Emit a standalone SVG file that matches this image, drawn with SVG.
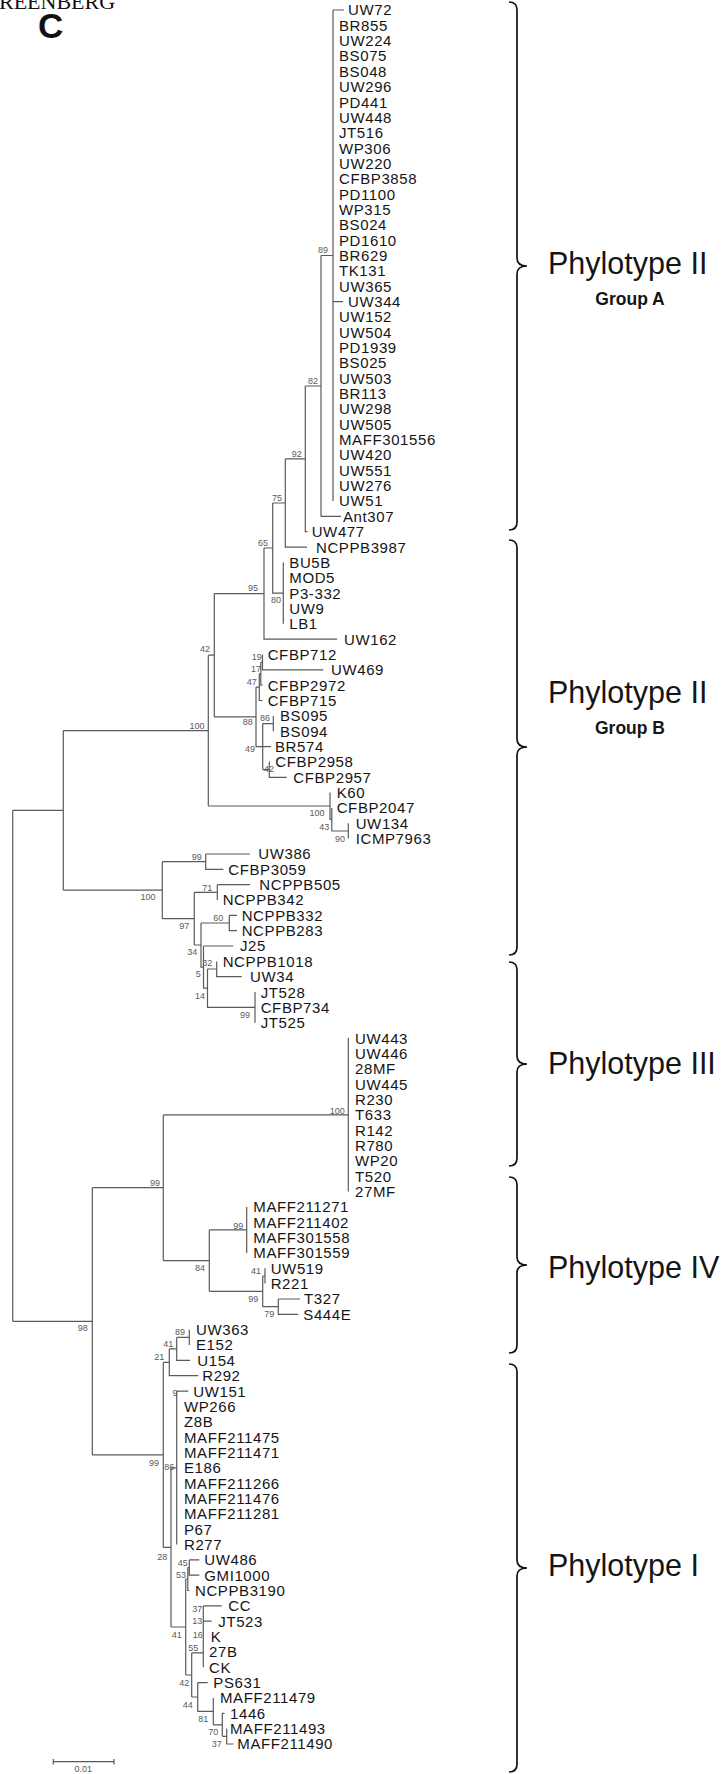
<svg xmlns="http://www.w3.org/2000/svg" width="728" height="1774" viewBox="0 0 728 1774">
<style>
.l{font-family:"Liberation Sans",Arial,sans-serif;font-size:15px;letter-spacing:0.6px;fill:#151515}
.b{font-family:"Liberation Sans",Arial,sans-serif;font-size:9px;fill:#5a5a5a;text-anchor:middle}
.br{fill:none;stroke:#111;stroke-width:1.7}
.ph{font-family:"Liberation Sans",Arial,sans-serif;font-size:30.5px;fill:#151515}
.gp{font-family:"Liberation Sans",Arial,sans-serif;font-size:17.5px;font-weight:bold;fill:#151515;text-anchor:middle}
</style>
<rect width="728" height="1774" fill="#fff"/>
<text x="-1" y="9" font-family="Liberation Serif,serif" font-size="22" fill="#111">REENBERG</text>
<text x="38" y="38" font-family="Liberation Sans,Arial,sans-serif" font-size="35" font-weight="bold" fill="#111">C</text>
<g id="connectors" fill="none" stroke="#5a5a5a" stroke-width="1.2">
<path d="M333,10 V501 M333,10 H344 M333,301.6 H343 M321,255.5 H333 M321,255.5 V516.4 M321,516.4 H341 M305.3,386 H321 M305.3,386 V531.7 H307.5 M285.3,458.9 H305.3 M285.3,458.9 V547.1 H307 M272.7,503 H285.3 M272.7,503 V593.1 H283.3 M283.3,562.4 V623.8 M264,548 H272.7 M264,548 V639.1 H337 M214.3,593.6 H264"/>
<path d="M262.5,654.5 V669.8 H323.3 M260.8,662.2 H262.5 M260.8,662.2 V685.2 H262.5 M259.3,673.7 H260.8 M259.3,673.7 V700.5 H262.5 M273.3,715.9 V731.2 M262.7,723.6 H273.3 M269.3,761.9 V777.3 H286.7 M269.3,761.9 H270 M262.7,769.6 H269.3 M262.7,723.6 V769.6 M262.7,746.6 H271 M256,687.1 H259.3 M256,687.1 V746.6 H262.7 M214.3,716.9 H256 M214.3,593.6 V716.9 M208.3,655.2 H214.3"/>
<path d="M348.3,823.3 V838.6 M331.8,807.9 V831 H348.3 M330,792.6 V819.4 H331.8 M208.3,806 H330 M208.3,655.2 V806 M63.3,730.6 H208.3"/>
<path d="M205.7,854 V869.3 H223.3 M205.7,854 H250 M162.3,861.7 H205.7 M217.3,884.7 V900 M217.3,884.7 H250 M194.3,892.3 H217.3 M229.3,915.4 V930.7 H237 M229.3,915.4 H237 M255,992.1 V1022.8 M216.7,961.4 V976.7 H241.7 M207.5,969 H216.7 M207.5,969 V1007.4 H255 M203.5,946 H233.3 M203.5,946 V988.2 H207.5 M201,923 H229.3 M201,923 V967.1 H203.5 M194.3,945 H201 M194.3,892.3 V945 M162.3,918.7 H194.3 M162.3,861.7 V918.7 M63.3,890.2 H162.3 M63.3,730.6 V890.2 M12.7,810.4 H63.3"/>
<path d="M348.3,1038.1 V1191.6 M163.3,1114.9 H348.3 M246.7,1206.9 V1252.9 M209.3,1229.9 H246.7 M265,1268.3 V1283.6 M262.7,1276 H265 M278.3,1299 V1314.3 H298 M278.3,1299 H300 M262.7,1306.7 H278.3 M262.7,1276 V1306.7 M209.3,1291.3 H262.7 M209.3,1229.9 V1291.3 M163.3,1260.6 H209.3 M163.3,1114.9 V1260.6 M92.3,1187.7 H163.3"/>
<path d="M189.3,1329.7 V1345 M176.7,1337.4 H189.3 M176.7,1337.4 V1360.4 H190 M169.3,1348.9 H176.7 M169.3,1348.9 V1375.7 H198.3 M163.3,1362.3 H169.3 M176.7,1391.1 V1544.5 M176.7,1391.1 H188.3 M171,1467.8 H176.7 M189.3,1559.8 V1575.2 H199.3 M189.3,1559.8 H199.3 M187.8,1567.5 H189.3 M187.8,1567.5 V1590.5 H189.5 M185.7,1579 H187.8 M203.3,1605.9 V1667.3 M203.3,1605.9 H221.7 M203.3,1621.2 H211.7 M191.7,1652.9 H203.3 M226.7,1728.6 V1744 H233.3 M222.3,1736.3 H226.7 M222.3,1713.3 V1736.3 M222.3,1713.3 H224.5 M213.3,1724.8 H222.3 M213.3,1698 V1724.8 M197.7,1711.4 H213.3 M197.7,1682.6 V1711.4 M197.7,1682.6 H207.7 M191.7,1697 H197.7 M191.7,1652.9 V1697 M185.7,1675 H191.7 M185.7,1579 V1675 M171,1627 H185.7 M171,1467.8 V1627 M163.3,1547.4 H171 M163.3,1362.3 V1547.4 M92.3,1454.9 H163.3 M92.3,1187.7 V1454.9 M12.7,1321.3 H92.3 M12.7,810.4 V1321.3"/>
<path d="M53.3,1761.7 H114 M53.3,1759 V1764.5 M114,1759 V1764.5"/>
</g>
<g id="brackets">
<path class="br" d="M509,2 Q517,2 517,10 V258 Q517,266 527,266 Q517,266 517,274 V522 Q517,530 509,530"/>
<path class="br" d="M509,540 Q517,540 517,548 V739 Q517,747 527,747 Q517,747 517,755 V947 Q517,955 509,955"/>
<path class="br" d="M509,962 Q517,962 517,970 V1056 Q517,1064 527,1064 Q517,1064 517,1072 V1158 Q517,1166 509,1166"/>
<path class="br" d="M509,1177 Q517,1177 517,1185 V1257 Q517,1265 527,1265 Q517,1265 517,1273 V1345 Q517,1353 509,1353"/>
<path class="br" d="M509,1364 Q517,1364 517,1372 V1560 Q517,1568 527,1568 Q517,1568 517,1576 V1764 Q517,1772 509,1772"/>
</g>
<g id="clade-labels">
<text class="ph" x="548" y="274">Phylotype II</text>
<text class="gp" x="630" y="305">Group A</text>
<text class="ph" x="548" y="703">Phylotype II</text>
<text class="gp" x="630" y="734">Group B</text>
<text class="ph" x="548" y="1074">Phylotype III</text>
<text class="ph" x="548" y="1278">Phylotype IV</text>
<text class="ph" x="548" y="1576">Phylotype I</text>
</g>
<g id="bootstrap">
<text class="b" x="323" y="253">89</text><text class="b" x="313" y="384">82</text><text class="b" x="296.7" y="457">92</text><text class="b" x="277" y="501">75</text><text class="b" x="263" y="546">65</text><text class="b" x="253" y="591">95</text><text class="b" x="276" y="603">80</text><text class="b" x="205" y="652">42</text><text class="b" x="197" y="729">100</text><text class="b" x="256.7" y="660">19</text><text class="b" x="256" y="672">17</text><text class="b" x="251.7" y="685">47</text><text class="b" x="265" y="721">86</text><text class="b" x="247.7" y="725">88</text><text class="b" x="250" y="752">49</text><text class="b" x="269" y="772">42</text><text class="b" x="317" y="816">100</text><text class="b" x="324.3" y="830">43</text><text class="b" x="340" y="842">90</text><text class="b" x="196.7" y="860">99</text><text class="b" x="207.3" y="891">71</text><text class="b" x="148" y="900">100</text><text class="b" x="218.3" y="921">60</text><text class="b" x="184.3" y="929">97</text><text class="b" x="192.3" y="955">34</text><text class="b" x="207.3" y="966">32</text><text class="b" x="198.3" y="977">5</text><text class="b" x="200" y="999">14</text><text class="b" x="245" y="1018">99</text><text class="b" x="337.3" y="1114">100</text><text class="b" x="155" y="1186">99</text><text class="b" x="238.3" y="1229">99</text><text class="b" x="200" y="1271">84</text><text class="b" x="256" y="1274">41</text><text class="b" x="253.3" y="1302">99</text><text class="b" x="269.3" y="1317">79</text><text class="b" x="82.7" y="1331">98</text><text class="b" x="180" y="1335">89</text><text class="b" x="168.3" y="1347">41</text><text class="b" x="159.3" y="1360">21</text><text class="b" x="175" y="1396">9</text><text class="b" x="154" y="1466">99</text><text class="b" x="169.3" y="1470">86</text><text class="b" x="162.3" y="1560">28</text><text class="b" x="182.7" y="1566">45</text><text class="b" x="181" y="1578">53</text><text class="b" x="197.3" y="1612">37</text><text class="b" x="197.3" y="1624">13</text><text class="b" x="197.7" y="1638">16</text><text class="b" x="176.7" y="1638">41</text><text class="b" x="193.3" y="1651">55</text><text class="b" x="184.3" y="1686">42</text><text class="b" x="187.7" y="1708">44</text><text class="b" x="203.3" y="1722">81</text><text class="b" x="213.3" y="1735">70</text><text class="b" x="216.7" y="1747">37</text>
<text class="b" x="83.3" y="1772" font-size="8">0.01</text>
</g>
<g id="phylotype-II-A">
<g id="n-UW72"><text class="l" x="348" y="15.4">UW72</text></g>
<g id="n-BR855"><text class="l" x="339" y="30.7">BR855</text></g>
<g id="n-UW224"><text class="l" x="339" y="46.1">UW224</text></g>
<g id="n-BS075"><text class="l" x="339" y="61.4">BS075</text></g>
<g id="n-BS048"><text class="l" x="339" y="76.8">BS048</text></g>
<g id="n-UW296"><text class="l" x="339" y="92.1">UW296</text></g>
<g id="n-PD441"><text class="l" x="339" y="107.5">PD441</text></g>
<g id="n-UW448"><text class="l" x="339" y="122.8">UW448</text></g>
<g id="n-JT516"><text class="l" x="339" y="138.2">JT516</text></g>
<g id="n-WP306"><text class="l" x="339" y="153.5">WP306</text></g>
<g id="n-UW220"><text class="l" x="339" y="168.9">UW220</text></g>
<g id="n-CFBP3858"><text class="l" x="339" y="184.2">CFBP3858</text></g>
<g id="n-PD1100"><text class="l" x="339" y="199.5">PD1100</text></g>
<g id="n-WP315"><text class="l" x="339" y="214.9">WP315</text></g>
<g id="n-BS024"><text class="l" x="339" y="230.2">BS024</text></g>
<g id="n-PD1610"><text class="l" x="339" y="245.6">PD1610</text></g>
<g id="n-BR629"><text class="l" x="339" y="260.9">BR629</text></g>
<g id="n-TK131"><text class="l" x="339" y="276.3">TK131</text></g>
<g id="n-UW365"><text class="l" x="339" y="291.6">UW365</text></g>
<g id="n-UW344"><text class="l" x="348" y="307.0">UW344</text></g>
<g id="n-UW152"><text class="l" x="339" y="322.3">UW152</text></g>
<g id="n-UW504"><text class="l" x="339" y="337.7">UW504</text></g>
<g id="n-PD1939"><text class="l" x="339" y="353.0">PD1939</text></g>
<g id="n-BS025"><text class="l" x="339" y="368.3">BS025</text></g>
<g id="n-UW503"><text class="l" x="339" y="383.7">UW503</text></g>
<g id="n-BR113"><text class="l" x="339" y="399.0">BR113</text></g>
<g id="n-UW298"><text class="l" x="339" y="414.4">UW298</text></g>
<g id="n-UW505"><text class="l" x="339" y="429.7">UW505</text></g>
<g id="n-MAFF301556"><text class="l" x="339" y="445.1">MAFF301556</text></g>
<g id="n-UW420"><text class="l" x="339" y="460.4">UW420</text></g>
<g id="n-UW551"><text class="l" x="339" y="475.8">UW551</text></g>
<g id="n-UW276"><text class="l" x="339" y="491.1">UW276</text></g>
<g id="n-UW51"><text class="l" x="339" y="506.4">UW51</text></g>
<g id="n-Ant307"><text class="l" x="343" y="521.8">Ant307</text></g>
<g id="n-UW477"><text class="l" x="311.7" y="537.1">UW477</text></g>
<g id="n-NCPPB3987"><text class="l" x="316" y="552.5">NCPPB3987</text></g>
</g>
<g id="phylotype-II-B">
<g id="n-BU5B"><text class="l" x="289.3" y="567.8">BU5B</text></g>
<g id="n-MOD5"><text class="l" x="289.3" y="583.2">MOD5</text></g>
<g id="n-P3-332"><text class="l" x="289.3" y="598.5">P3-332</text></g>
<g id="n-UW9"><text class="l" x="289.3" y="613.9">UW9</text></g>
<g id="n-LB1"><text class="l" x="289.3" y="629.2">LB1</text></g>
<g id="n-UW162"><text class="l" x="344" y="644.5">UW162</text></g>
<g id="n-CFBP712"><text class="l" x="267.7" y="659.9">CFBP712</text></g>
<g id="n-UW469"><text class="l" x="331" y="675.2">UW469</text></g>
<g id="n-CFBP2972"><text class="l" x="267.7" y="690.6">CFBP2972</text></g>
<g id="n-CFBP715"><text class="l" x="267.7" y="705.9">CFBP715</text></g>
<g id="n-BS095"><text class="l" x="280" y="721.3">BS095</text></g>
<g id="n-BS094"><text class="l" x="280" y="736.6">BS094</text></g>
<g id="n-BR574"><text class="l" x="275" y="752.0">BR574</text></g>
<g id="n-CFBP2958"><text class="l" x="275.3" y="767.3">CFBP2958</text></g>
<g id="n-CFBP2957"><text class="l" x="293.3" y="782.7">CFBP2957</text></g>
<g id="n-K60"><text class="l" x="336.7" y="798.0">K60</text></g>
<g id="n-CFBP2047"><text class="l" x="336.7" y="813.3">CFBP2047</text></g>
<g id="n-UW134"><text class="l" x="355.7" y="828.7">UW134</text></g>
<g id="n-ICMP7963"><text class="l" x="355.7" y="844.0">ICMP7963</text></g>
</g>
<g id="phylotype-III">
<g id="n-UW386"><text class="l" x="258.3" y="859.4">UW386</text></g>
<g id="n-CFBP3059"><text class="l" x="228.3" y="874.7">CFBP3059</text></g>
<g id="n-NCPPB505"><text class="l" x="259.3" y="890.1">NCPPB505</text></g>
<g id="n-NCPPB342"><text class="l" x="222.7" y="905.4">NCPPB342</text></g>
<g id="n-NCPPB332"><text class="l" x="241.7" y="920.8">NCPPB332</text></g>
<g id="n-NCPPB283"><text class="l" x="241.7" y="936.1">NCPPB283</text></g>
<g id="n-J25"><text class="l" x="240" y="951.4">J25</text></g>
<g id="n-NCPPB1018"><text class="l" x="222.7" y="966.8">NCPPB1018</text></g>
<g id="n-UW34"><text class="l" x="250" y="982.1">UW34</text></g>
<g id="n-JT528"><text class="l" x="260.7" y="997.5">JT528</text></g>
<g id="n-CFBP734"><text class="l" x="260.7" y="1012.8">CFBP734</text></g>
<g id="n-JT525"><text class="l" x="260.7" y="1028.2">JT525</text></g>
</g>
<g id="phylotype-IV">
<g id="n-UW443"><text class="l" x="355" y="1043.5">UW443</text></g>
<g id="n-UW446"><text class="l" x="355" y="1058.9">UW446</text></g>
<g id="n-28MF"><text class="l" x="355" y="1074.2">28MF</text></g>
<g id="n-UW445"><text class="l" x="355" y="1089.6">UW445</text></g>
<g id="n-R230"><text class="l" x="355" y="1104.9">R230</text></g>
<g id="n-T633"><text class="l" x="355" y="1120.2">T633</text></g>
<g id="n-R142"><text class="l" x="355" y="1135.6">R142</text></g>
<g id="n-R780"><text class="l" x="355" y="1150.9">R780</text></g>
<g id="n-WP20"><text class="l" x="355" y="1166.3">WP20</text></g>
<g id="n-T520"><text class="l" x="355" y="1181.6">T520</text></g>
<g id="n-27MF"><text class="l" x="355" y="1197.0">27MF</text></g>
<g id="n-MAFF211271"><text class="l" x="253.3" y="1212.3">MAFF211271</text></g>
<g id="n-MAFF211402"><text class="l" x="253.3" y="1227.7">MAFF211402</text></g>
<g id="n-MAFF301558"><text class="l" x="253.3" y="1243.0">MAFF301558</text></g>
<g id="n-MAFF301559"><text class="l" x="253.3" y="1258.3">MAFF301559</text></g>
<g id="n-UW519"><text class="l" x="270.7" y="1273.7">UW519</text></g>
<g id="n-R221"><text class="l" x="270.7" y="1289.0">R221</text></g>
<g id="n-T327"><text class="l" x="304" y="1304.4">T327</text></g>
<g id="n-S444E"><text class="l" x="303.3" y="1319.7">S444E</text></g>
</g>
<g id="phylotype-I">
<g id="n-UW363"><text class="l" x="196" y="1335.1">UW363</text></g>
<g id="n-E152"><text class="l" x="196" y="1350.4">E152</text></g>
<g id="n-U154"><text class="l" x="197.3" y="1365.8">U154</text></g>
<g id="n-R292"><text class="l" x="202.3" y="1381.1">R292</text></g>
<g id="n-UW151"><text class="l" x="193.3" y="1396.5">UW151</text></g>
<g id="n-WP266"><text class="l" x="184" y="1411.8">WP266</text></g>
<g id="n-Z8B"><text class="l" x="184" y="1427.1">Z8B</text></g>
<g id="n-MAFF211475"><text class="l" x="184" y="1442.5">MAFF211475</text></g>
<g id="n-MAFF211471"><text class="l" x="184" y="1457.8">MAFF211471</text></g>
<g id="n-E186"><text class="l" x="184" y="1473.2">E186</text></g>
<g id="n-MAFF211266"><text class="l" x="184" y="1488.5">MAFF211266</text></g>
<g id="n-MAFF211476"><text class="l" x="184" y="1503.9">MAFF211476</text></g>
<g id="n-MAFF211281"><text class="l" x="184" y="1519.2">MAFF211281</text></g>
<g id="n-P67"><text class="l" x="184" y="1534.6">P67</text></g>
<g id="n-R277"><text class="l" x="184" y="1549.9">R277</text></g>
<g id="n-UW486"><text class="l" x="204.3" y="1565.2">UW486</text></g>
<g id="n-GMI1000"><text class="l" x="204.3" y="1580.6">GMI1000</text></g>
<g id="n-NCPPB3190"><text class="l" x="195" y="1595.9">NCPPB3190</text></g>
<g id="n-CC"><text class="l" x="228.3" y="1611.3">CC</text></g>
<g id="n-JT523"><text class="l" x="218.3" y="1626.6">JT523</text></g>
<g id="n-K"><text class="l" x="210.7" y="1642.0">K</text></g>
<g id="n-27B"><text class="l" x="209" y="1657.3">27B</text></g>
<g id="n-CK"><text class="l" x="209" y="1672.7">CK</text></g>
<g id="n-PS631"><text class="l" x="213.3" y="1688.0">PS631</text></g>
<g id="n-MAFF211479"><text class="l" x="220" y="1703.4">MAFF211479</text></g>
<g id="n-1446"><text class="l" x="230" y="1718.7">1446</text></g>
<g id="n-MAFF211493"><text class="l" x="230" y="1734.0">MAFF211493</text></g>
<g id="n-MAFF211490"><text class="l" x="237.3" y="1749.4">MAFF211490</text></g>
</g>
</svg>
